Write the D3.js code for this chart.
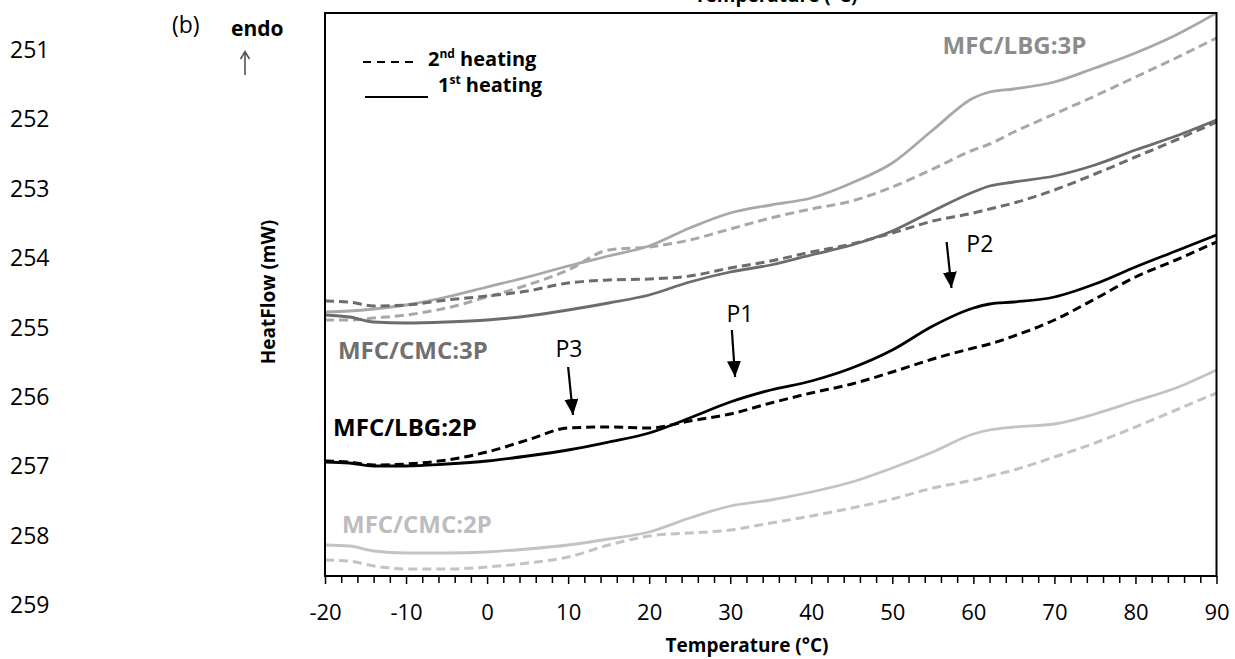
<!DOCTYPE html>
<html>
<head>
<meta charset="utf-8">
<script src="https://cdn.jsdelivr.net/npm/d3@7"></script>
<style>
    body { margin: 0; background: #fff; }
    text { font-family: "Open Sans", sans-serif; }
</style>
</head>
<body>
<div id="chart"></div>
<script>
// Temperature grid (°C)
var temps = [-20, -17, -14, -10, -5, 0, 5, 10, 15, 20, 25, 30, 35, 40, 45, 50, 55, 60, 62, 65, 70, 75, 80, 85, 90];

// Heat flow, relative units (endo up)
var lbg3p_1st = [264, 265, 267, 271, 279, 289, 299, 310, 320, 330, 348, 363, 371, 378, 393, 413, 446, 478, 484, 487, 494, 508, 523, 541, 563];
var lbg3p_2nd = [256, 256, 258, 261, 268, 279, 291, 306, 326, 329, 336, 347, 358, 367, 375, 389, 407, 426, 432, 444, 462, 480, 499, 518, 538];
var cmc3p_1st = [261, 259, 254, 253, 254, 256, 260, 266, 273, 281, 294, 304, 311, 321, 331, 345, 365, 384, 390, 394, 400, 411, 426, 440, 456];
var cmc3p_2nd = [275, 274, 270, 271, 276, 280, 285, 293, 296, 297, 300, 308, 315, 324, 332, 343, 355, 363, 367, 373, 386, 402, 419, 436, 454];
var lbg2p_1st = [114, 113, 110, 110, 112, 115, 120, 126, 134, 143, 158, 174, 186, 195, 208, 226, 250, 268, 272, 274, 279, 292, 309, 325, 341];
var lbg2p_2nd = [115, 114, 111, 112, 116, 124, 136, 148, 149, 148, 155, 162, 173, 183, 192, 204, 217, 228, 232, 240, 256, 277, 299, 316, 334];
var cmc2p_1st = [31, 30, 25, 23, 23, 24, 27, 31, 37, 44, 58, 70, 76, 84, 94, 108, 124, 142, 146, 149, 152, 162, 175, 188, 206];
var cmc2p_2nd = [16, 15, 10, 7, 7, 9, 13, 19, 31, 40, 43, 46, 53, 60, 68, 77, 88, 96, 100, 106, 119, 133, 149, 166, 183];

var sampleNames = ["MFC/LBG:3P", "MFC/CMC:3P", "MFC/LBG:2P", "MFC/CMC:2P"];
var xTickValues = [-20, -10, 0, 10, 20, 30, 40, 50, 60, 70, 80, 90];
var lineNumbers = [251, 252, 253, 254, 255, 256, 257, 258, 259];

// label anchors in data units: [temperature, heat flow]
var sampleLabelAt = [[56.2, 522], [-18.4, 217], [-19.0, 140], [-17.9, 43]];
// peak arrows: label, label anchor, arrow start, arrow tip
var peakNames = ["P3", "P1", "P2"];
var peakLabelAt = [[10.1, 219], [31.2, 254], [60.8, 324]];
var peakArrowFrom = [[10.0, 209], [30.2, 246], [56.7, 334]];
var peakArrowTo = [[10.6, 161], [30.6, 199], [57.3, 288]];

var styles = {
    "MFC/LBG:3P": { line: "#a8a8a8", label: "#8c8c8c" },
    "MFC/CMC:3P": { line: "#6c6c6c", label: "#707070" },
    "MFC/LBG:2P": { line: "#000000", label: "#000000" },
    "MFC/CMC:2P": { line: "#c3c3c3", label: "#bdbdbd" }
};
var seriesData = {
    "MFC/LBG:3P": [lbg3p_1st, lbg3p_2nd],
    "MFC/CMC:3P": [cmc3p_1st, cmc3p_2nd],
    "MFC/LBG:2P": [lbg2p_1st, lbg2p_2nd],
    "MFC/CMC:2P": [cmc2p_1st, cmc2p_2nd]
};

var svgWidth = 1235;
var svgHeight = 659;
var margin = { top: 13, right: 18.5, bottom: 83, left: 325 };
var width = svgWidth - margin.left - margin.right;
var height = svgHeight - margin.top - margin.bottom;

var svg = d3.select("#chart")
    .append("svg")
    .attr("width", svgWidth)
    .attr("height", svgHeight);

var defs = svg.append("defs");
defs.append("clipPath").attr("id", "plot-clip")
    .append("rect")
    .attr("width", width)
    .attr("height", height);
defs.append("marker")
    .attr("id", "head")
    .attr("markerUnits", "userSpaceOnUse")
    .attr("viewBox", "0 -7 16 14")
    .attr("markerWidth", 16)
    .attr("markerHeight", 14)
    .attr("refX", 16)
    .attr("refY", 0)
    .attr("orient", "auto")
    .append("path")
    .attr("d", "M0,-7L16,0L0,7Z")
    .attr("fill", "#000");

// Manuscript line numbers down the left margin
var lineY = d3.scaleLinear().domain([251, 259]).range([50, 605]);
svg.selectAll(".lineno")
    .data(lineNumbers)
    .enter()
    .append("text")
    .attr("class", "lineno")
    .attr("x", 10)
    .attr("y", d => lineY(d) + 8)
    .attr("font-size", "23px")
    .attr("fill", "#000")
    .text(d => d);

svg.append("text")
    .attr("x", 172)
    .attr("y", 33)
    .attr("font-size", "23px")
    .text("(b)");

svg.append("text")
    .attr("x", 231)
    .attr("y", 36)
    .attr("font-size", "21px")
    .attr("font-weight", "bold")
    .text("endo");

// endo-up arrow
svg.append("path")
    .attr("d", "M245,75V52M240.5,59L245,51.5L249.5,59")
    .attr("fill", "none")
    .attr("stroke", "#555")
    .attr("stroke-width", 1.6);

var chartGroup = svg.append("g")
    .attr("transform", `translate(${margin.left}, ${margin.top})`);

// Scales
var xLinearScale = d3.scaleLinear()
    .domain([-20, 90])
    .range([0, width]);

var yLinearScale = d3.scaleLinear()
    .domain([0, 563])
    .range([height, 0]);

// Minor ticks every 2 °C
var minorAxis = d3.axisBottom(xLinearScale)
    .tickValues(d3.range(-20, 91, 2).filter(d => d % 10 !== 0))
    .tickSize(7)
    .tickFormat("");

var bottomAxis = d3.axisBottom(xLinearScale)
    .tickValues(xTickValues)
    .tickSize(8)
    .tickPadding(20)
    .tickFormat(d => String(d));

chartGroup.append("g")
    .attr("transform", `translate(0, ${height})`)
    .call(minorAxis)
    .call(g => g.select(".domain").remove())
    .call(g => g.selectAll("line").attr("stroke", "#000").attr("stroke-width", 1.5));

chartGroup.append("g")
    .attr("transform", `translate(0, ${height})`)
    .call(bottomAxis)
    .call(g => g.select(".domain").remove())
    .call(g => g.selectAll("line").attr("stroke", "#000").attr("stroke-width", 1.5))
    .call(g => g.selectAll("text")
        .attr("font-family", "'Open Sans', sans-serif")
        .attr("font-size", "22px")
        .attr("fill", "#000"));

// Curves
var line = d3.line()
    .x((d, i) => xLinearScale(temps[i]))
    .y(d => yLinearScale(d))
    .curve(d3.curveMonotoneX);

var curves = chartGroup.append("g").attr("clip-path", "url(#plot-clip)");

sampleNames.forEach(function(name) {
    var runs = seriesData[name];
    // 2nd heating, dashed
    curves.append("path")
        .attr("d", line(runs[1]))
        .attr("fill", "none")
        .attr("stroke", styles[name].line)
        .attr("stroke-width", 3)
        .attr("stroke-dasharray", "9,5");
    // 1st heating, solid
    curves.append("path")
        .attr("d", line(runs[0]))
        .attr("fill", "none")
        .attr("stroke", styles[name].line)
        .attr("stroke-width", 2.8);
});

// Frame
chartGroup.append("rect")
    .attr("width", width)
    .attr("height", height)
    .attr("fill", "none")
    .attr("stroke", "#000")
    .attr("stroke-width", 2);

// Sample labels
chartGroup.selectAll(".sample-label")
    .data(sampleNames)
    .enter()
    .append("text")
    .attr("class", "sample-label")
    .attr("x", (d, i) => xLinearScale(sampleLabelAt[i][0]))
    .attr("y", (d, i) => yLinearScale(sampleLabelAt[i][1]))
    .attr("font-size", "24px")
    .attr("font-weight", "bold")
    .attr("fill", d => styles[d].label)
    .text(d => d);

// Peak arrows
chartGroup.selectAll(".peak-arrow")
    .data(peakNames)
    .enter()
    .append("line")
    .attr("class", "peak-arrow")
    .attr("x1", (d, i) => xLinearScale(peakArrowFrom[i][0]))
    .attr("y1", (d, i) => yLinearScale(peakArrowFrom[i][1]))
    .attr("x2", (d, i) => xLinearScale(peakArrowTo[i][0]))
    .attr("y2", (d, i) => yLinearScale(peakArrowTo[i][1]))
    .attr("stroke", "#000")
    .attr("stroke-width", 2.2)
    .attr("marker-end", "url(#head)");

chartGroup.selectAll(".peak-label")
    .data(peakNames)
    .enter()
    .append("text")
    .attr("class", "peak-label")
    .attr("x", (d, i) => xLinearScale(peakLabelAt[i][0]))
    .attr("y", (d, i) => yLinearScale(peakLabelAt[i][1]))
    .attr("text-anchor", "middle")
    .attr("font-size", "23px")
    .attr("fill", "#000")
    .text(d => d);

// Legend
svg.append("line")
    .attr("x1", 363).attr("x2", 415)
    .attr("y1", 62).attr("y2", 62)
    .attr("stroke", "#000")
    .attr("stroke-width", 2.2)
    .attr("stroke-dasharray", "8,6");

svg.append("line")
    .attr("x1", 365).attr("x2", 428)
    .attr("y1", 97).attr("y2", 97)
    .attr("stroke", "#000")
    .attr("stroke-width", 2);

var leg2 = svg.append("text")
    .attr("x", 428)
    .attr("y", 66)
    .attr("font-size", "20px")
    .attr("font-weight", "bold");
leg2.append("tspan").text("2");
leg2.append("tspan").attr("font-size", "12px").attr("dy", -8).text("nd");
leg2.append("tspan").attr("dy", 8).text(" heating");

var leg1 = svg.append("text")
    .attr("x", 438)
    .attr("y", 92)
    .attr("font-size", "20px")
    .attr("font-weight", "bold");
leg1.append("tspan").text("1");
leg1.append("tspan").attr("font-size", "12px").attr("dy", -8).text("st");
leg1.append("tspan").attr("dy", 8).text(" heating");

// Axis titles
svg.append("text")
    .attr("x", 747)
    .attr("y", 652)
    .attr("text-anchor", "middle")
    .attr("font-size", "19px")
    .attr("font-weight", "bold")
    .text("Temperature (°C)");

// title of the panel above, cut off at the page edge
svg.append("text")
    .attr("x", 776)
    .attr("y", 2)
    .attr("text-anchor", "middle")
    .attr("font-size", "19px")
    .attr("font-weight", "bold")
    .text("Temperature (°C)");

svg.append("text")
    .attr("transform", "rotate(-90)")
    .attr("x", -292)
    .attr("y", 275)
    .attr("text-anchor", "middle")
    .attr("font-size", "19px")
    .attr("font-weight", "bold")
    .text("HeatFlow (mW)");
</script>
</body>
</html>
